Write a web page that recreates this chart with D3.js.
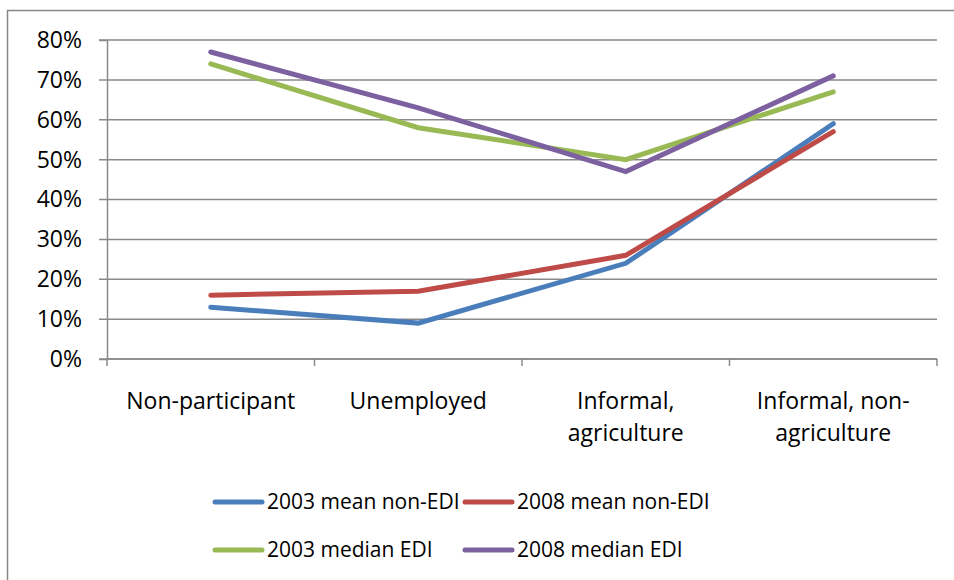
<!DOCTYPE html>
<html>
<head>
<meta charset="utf-8">
<script src="https://cdn.jsdelivr.net/npm/d3@7"></script>
<style>
  body { margin: 0; background: #fff; }
  text { font-family: "Open Sans", "Liberation Sans", sans-serif; fill: #000; }
</style>
</head>
<body>
<div id="chart"></div>
<script>
let width = 954
let height = 580

// data
const categories = ["Non-participant", "Unemployed", "Informal, agriculture", "Informal, non-agriculture"]
const catLabels = [["Non-participant"], ["Unemployed"], ["Informal,", "agriculture"], ["Informal, non-", "agriculture"]]
const seriesNames = ["2003 mean non-EDI", "2008 mean non-EDI", "2003 median EDI", "2008 median EDI"]
const mean2003 = [0.13, 0.09, 0.24, 0.59]
const mean2008 = [0.16, 0.17, 0.26, 0.57]
const median2003 = [0.74, 0.58, 0.50, 0.67]
const median2008 = [0.77, 0.63, 0.47, 0.71]
const yTicks = [0, 0.1, 0.2, 0.3, 0.4, 0.5, 0.6, 0.7, 0.8]
const colors = ["#4a7ebb", "#be4b48", "#98b954", "#7d60a0"]

const series = [mean2003, mean2008, median2003, median2008].map((v, i) => ({name: seriesNames[i], values: v, color: colors[i]}))

const svg = d3.select("#chart")
  .append("svg")
  .attr("width", width)
  .attr("height", height)

// outer frame
svg.append("rect")
  .attr("x", 7.5).attr("y", 10.5)
  .attr("width", 960).attr("height", 600)
  .attr("fill", "none")
  .attr("stroke", "#868686")
  .attr("stroke-width", 1.5)

const plotL = 107, plotR = 937, plotT = 40, plotB = 359

const x = d3.scaleBand()
  .domain(categories)
  .range([plotL, plotR])
const y = d3.scaleLinear()
  .domain([0, 0.8])
  .range([plotB, plotT])

// gridlines
svg.append("g")
  .selectAll("line")
  .data(yTicks)
  .enter()
  .append("line")
  .attr("x1", plotL - 8).attr("x2", plotR)
  .attr("y1", d => y(d)).attr("y2", d => y(d))
  .attr("stroke", "#8a8a8a")
  .attr("stroke-width", 1.5)

// y axis
const yAxis = svg.append("g")
  .attr("transform", `translate(${plotL},0)`)
  .call(d3.axisLeft(y).tickValues(yTicks).tickFormat(d3.format(".0%")).tickSize(8).tickPadding(17))
yAxis.select(".domain").attr("stroke", "#8a8a8a").attr("stroke-width", 1.5)
yAxis.selectAll(".tick line").remove()
yAxis.selectAll("text").style("font-size", "23px").attr("font-family", null)

// x axis
const xAxis = svg.append("g")
  .attr("transform", `translate(0,${plotB})`)
xAxis.append("line")
  .attr("x1", plotL).attr("x2", plotR)
  .attr("stroke", "#8a8a8a").attr("stroke-width", 1.5)
xAxis.selectAll(".bt")
  .data([0, 1, 2, 3, 4])
  .enter()
  .append("line")
  .attr("x1", i => plotL + i * x.step()).attr("x2", i => plotL + i * x.step())
  .attr("y1", 0).attr("y2", 7)
  .attr("stroke", "#8a8a8a").attr("stroke-width", 1.5)

const labels = xAxis.selectAll(".lab")
  .data(categories)
  .enter()
  .append("text")
  .attr("text-anchor", "middle")
  .style("font-size", "23px")
  .attr("x", d => x(d) + x.bandwidth() / 2)
labels.selectAll("tspan")
  .data((d, i) => catLabels[i])
  .enter()
  .append("tspan")
  .attr("x", function() { return d3.select(this.parentNode).attr("x") })
  .attr("y", (d, j) => 50 + j * 32)
  .text(d => d)

// lines
const line = d3.line()
  .x((d, i) => x(categories[i]) + x.bandwidth() / 2)
  .y(d => y(d))

svg.selectAll(".series")
  .data(series)
  .enter()
  .append("path")
  .attr("d", d => line(d.values))
  .attr("fill", "none")
  .attr("stroke", d => d.color)
  .attr("stroke-width", 5)
  .attr("stroke-linecap", "round")
  .attr("stroke-linejoin", "miter")

// legend
const legend = svg.append("g")
const lg = legend.selectAll("g")
  .data(series)
  .enter()
  .append("g")
  .attr("transform", (d, i) => `translate(${i % 2 === 0 ? 215 : 465},${i < 2 ? 502 : 550})`)
lg.append("line")
  .attr("x1", 0).attr("x2", 47)
  .attr("stroke", d => d.color)
  .attr("stroke-width", 5)
  .attr("stroke-linecap", "round")
lg.append("text")
  .attr("x", 52)
  .attr("dy", "0.35em")
  .style("font-size", "21px")
  .text(d => d.name)
</script>
</body>
</html>
